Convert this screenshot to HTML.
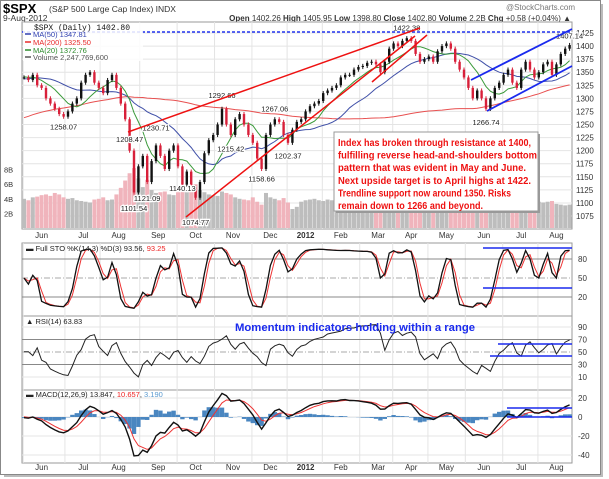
<!DOCTYPE html>
<html><head><meta charset="utf-8"><style>
html,body{margin:0;padding:0;background:#fff;width:609px;height:479px;overflow:hidden}
svg{display:block;font-family:"Liberation Sans",sans-serif}
</style></head><body>
<svg id="c" width="609" height="479" viewBox="0 0 609 479"></svg>
<script>
const closes=[1340,1335,1345,1325,1320,1300,1290,1280,1270,1265,1275,1290,1300,1330,1345,1350,1330,1320,1310,1335,1345,1320,1290,1260,1200,1120,1170,1190,1140,1180,1210,1190,1165,1200,1210,1170,1135,1160,1130,1110,1140,1195,1220,1230,1250,1280,1250,1230,1260,1270,1250,1230,1215,1185,1165,1230,1250,1260,1255,1230,1215,1240,1255,1260,1275,1285,1290,1295,1310,1315,1320,1325,1340,1345,1345,1355,1360,1362,1368,1370,1365,1350,1370,1395,1405,1400,1410,1415,1410,1385,1370,1375,1380,1370,1390,1400,1405,1395,1370,1355,1340,1320,1300,1315,1300,1280,1300,1320,1330,1345,1355,1330,1320,1355,1370,1355,1340,1350,1365,1370,1345,1365,1385,1395,1402];
const priorCloses=[1105,1110,1115,1125,1125,1140,1145,1150,1160,1165,1170,1175,1180,1185,1185,1180,1195,1200,1215,1220,1210,1200,1190,1195,1180,1190,1200,1215,1225,1230,1240,1245,1255,1260,1258,1270,1275,1280,1285,1290,1285,1285,1290,1300,1310,1320,1325,1330,1340,1330,1320,1310,1320,1300,1280,1270,1290,1300,1310,1320,1325,1330,1320,1315,1330,1320,1310,1330,1340,1350,1355,1360,1355,1345,1340,1345,1350,1345,1330,1335];
const volumes=[4.0,3.8,4.2,4.3,4.5,4.6,4.4,4.8,4.6,4.2,4.0,4.1,3.8,3.7,3.6,3.5,3.9,4.0,4.2,3.8,3.9,4.6,5.5,6.5,7.5,8.2,6.8,5.6,6.6,5.2,4.8,4.9,5.0,4.6,4.5,5.2,5.6,5.0,5.4,6.0,5.2,4.9,4.6,4.5,4.4,5.0,4.8,4.6,4.2,4.0,3.9,3.8,4.2,3.6,3.2,4.8,4.2,4.0,3.8,4.1,3.5,2.6,2.9,3.6,3.8,3.9,4.0,3.8,3.7,3.9,3.8,3.6,3.9,3.7,3.8,3.5,3.6,3.4,3.7,3.9,4.0,4.6,3.8,3.6,3.7,3.6,3.8,3.7,3.9,4.3,4.0,3.8,3.7,3.9,3.6,3.7,3.6,3.9,4.2,4.3,4.1,4.4,4.6,3.9,4.0,4.3,3.8,3.9,3.7,3.5,3.8,3.9,3.6,3.7,3.5,3.4,3.8,3.6,3.5,3.6,3.7,3.3,3.2,3.1,3.2];
const priceTicks=[1075,1100,1125,1150,1175,1200,1225,1250,1275,1300,1325,1350,1375,1400,1425];
const volTicks=[2,4,6,8];
const monthNames=["Jun","Jul","Aug","Sep","Oct","Nov","Dec","2012","Feb","Mar","Apr","May","Jun","Jul","Aug"];
const monthIdx=[4,13.5,21.5,30.5,39,47.5,56,64,72,80.5,88,96,104.5,113,121];
const pivotIdx=[9,25,28,24,30,36,39,45,47,57,54,60,87,105,124];
const pivotVals=[1258.07,1101.54,1121.09,1208.47,1230.71,1140.13,1074.77,1292.66,1215.42,1267.06,1158.66,1202.37,1422.38,1266.74,1407.14];
const pivotLow=[1,1,1,0,0,1,1,0,1,0,1,1,0,1,0];
const stoTicks=[20,50,80];
const rsiTicks=[10,30,50,70,90];
const macdTicks=[-40,-20,0,20];

const NS="http://www.w3.org/2000/svg";
const svg=document.getElementById('c');
function mk(tag,attrs,parent,text){const e=document.createElementNS(NS,tag);for(const k in attrs)e.setAttribute(k,attrs[k]);if(text!==undefined)e.textContent=text;(parent||svg).appendChild(e);return e;}
const X0=22,X1=572;
const xs=i=>24+i*4.4;
const yP=p=>33+(1425-p)*0.5229;
const yV=v=>228-v*7.3;
const ySto=v=>297-(v-20)*0.6333;
const yRsi=v=>352-(v-50)*0.625;
const yMacd=v=>417-v*0.95;
let el;

el=mk('rect',{x:4,y:4,width:599,height:473,fill:'#bbb'});


el=mk('rect',{x:0.5,y:0.5,width:600,height:474,fill:'#fff',stroke:'#888'});



el=mk('text',{x:3,y:13,'font-size':13,'font-weight':'bold'},svg,'$SPX');


el=mk('text',{x:49,y:12,'font-size':8.5,fill:'#333'},svg,'(S&P 500 Large Cap Index) INDX');


el=mk('text',{x:3,y:21,'font-size':8.5,fill:'#333'},svg,'9-Aug-2012');


el=mk('text',{x:575,y:10,'font-size':8,fill:'#777','text-anchor':'end'},svg,'@StockCharts.com');


el=mk('text',{x:571,y:21,'font-size':8,fill:'#333','text-anchor':'end'},svg);
el.innerHTML='<tspan font-weight="bold">Open</tspan> 1402.26 <tspan font-weight="bold">High</tspan> 1405.95 <tspan font-weight="bold">Low</tspan> 1398.80 <tspan font-weight="bold">Close</tspan> 1402.80 <tspan font-weight="bold">Volume</tspan> 2.2B <tspan font-weight="bold">Chg</tspan> +0.58 (+0.04%) ▲';



function panel(name,y0,y1){const r=mk('rect',{x:X0,y:y0,width:X1-X0,height:y1-y0,fill:'#fff',stroke:'#999','stroke-width':1});return r;}
panel('price-panel',22,229);
panel('sto-panel',243,316);
panel('rsi-panel',316,390);
panel('macd-panel',390,463);

[[22,229],[243,463]].forEach(([a,b])=>{monthIdx.forEach(m=>{const gx=xs(m-4.2);if(gx>X0&&gx<X1){const l=mk('line',{x1:gx,x2:gx,y1:a,y2:b,stroke:'#e4e4e4'});}});});
priceTicks.forEach(p=>{const l=mk('line',{x1:X0,x2:X1,y1:yP(p),y2:yP(p),stroke:'#e4e4e4'});
const t=mk('text',{x:576,y:yP(p)+3,'font-size':8,fill:'#333'},svg,String(p));});
volTicks.forEach(v=>{const t=mk('text',{x:4,y:yV(v)+3,'font-size':7.5,fill:'#333'},svg,v+'B');});

[238,470].forEach(yy=>{monthNames.forEach((m,k)=>{const t=mk('text',{x:xs(monthIdx[k]),y:yy,'font-size':8,fill:'#333','text-anchor':'middle','font-weight':m==='2012'?'bold':'normal'},svg,m);});});

volumes.forEach((v,i)=>{const up=i===0||closes[i]>=closes[i-1];const r=mk('rect',{x:xs(i)-2,y:yV(v),width:4,height:228-yV(v),fill:up?'#bdbdbd':'#f0b4bc'});});

const all=priorCloses.concat(closes);const off=priorCloses.length;
function sma(n,i){const j=i+off;const s=Math.max(0,j-n+1);let t=0;for(let k=s;k<=j;k++)t+=all[k];return t/(j-s+1);}
function maLine(n,color,name){let d='';closes.forEach((c,i)=>{d+=(i?'L':'M')+xs(i).toFixed(1)+','+yP(sma(n,i)).toFixed(1);});const p=mk('path',{d:d,fill:'none',stroke:color,'stroke-width':1});}
maLine(80,'#e85050','ma200-line');
maLine(20,'#4050a8','ma50-line');
maLine(8,'#3a9a3a','ma20-line');

closes.forEach((c,i)=>{const o=i?closes[i-1]:c;const hi=Math.max(o,c)+4,lo=Math.min(o,c)-4;const col=c>=o?'#111':'#d8203a';
const w=mk('line',{x1:xs(i),x2:xs(i),y1:yP(hi),y2:yP(lo),stroke:col,'stroke-width':1});
const b=mk('rect',{x:xs(i)-1.2,y:yP(Math.max(o,c)),width:2.4,height:Math.max(1,yP(Math.min(o,c))-yP(Math.max(o,c))),fill:col});});

pivotIdx.forEach((pi,k)=>{const v=pivotVals[k];const low=pivotLow[k];const ty=low?yP(v)+9:yP(v)-4;const t=mk('text',{x:xs(pi),y:ty,'font-size':7.5,fill:'#222','text-anchor':'middle',stroke:'#fff','stroke-width':2.5,'paint-order':'stroke'},svg,v.toFixed(2));});

function aline(name,x1,y1,x2,y2,color,w,dash){const l=mk('line',{x1:x1,y1:y1,x2:x2,y2:y2,stroke:color,'stroke-width':w});if(dash)l.setAttribute('stroke-dasharray',dash);}
aline('resistance-1422-line',X0,32,X1,32,'#2233ee',1.5,'3,2');
aline('wedge-upper-trendline',128,132,420,28,'#ee1111',1.5);
aline('wedge-support-trendline',186,217,415,36,'#ee1111',1.5);
aline('steep-trendline',372,82,427,35,'#ee1111',1.5);
aline('channel-upper-line',471,80,572,29,'#1a2aee',1.8);
aline('channel-lower-line',487,111,572,66,'#1a2aee',1.8);

el=mk('rect',{x:23,y:23,width:120,height:38,fill:'#fff','fill-opacity':0.85});


el=mk('text',{x:34,y:30,'font-size':8,'font-family':'Liberation Mono, monospace',fill:'#111'},svg,'$SPX (Daily) 1402.80');


[['MA(50) 1347.81','#3040b0',37,'legend-ma50'],['MA(200) 1325.50','#e82a2a',45,'legend-ma200'],['MA(20) 1372.76','#2a8a2a',53,'legend-ma20'],['Volume 2,247,769,600','#555',60,'legend-volume']].forEach(a=>{
const l=mk('line',{x1:25,x2:31,y1:a[2]-3,y2:a[2]-3,stroke:a[1],'stroke-width':1.5});
const t=mk('text',{x:33,y:a[2],'font-size':7.5,fill:a[1]},svg,a[0]);});

el=mk('rect',{x:336,y:134,width:204,height:79,fill:'#999'});


el=mk('rect',{x:334,y:132,width:204,height:79,fill:'#fff',stroke:'#999'});


const noteLines=['Index has broken through resistance at 1400,','fulfilling reverse head-and-shoulders bottom','pattern that was evident in May and June.','Next upside target is to April highs at 1422.','Trendline support now around 1350. Risks','remain down to 1266 and beyond.'];
const noteW=[193,199,188,193,173,145];
noteLines.forEach((s,k)=>{const t=mk('text',{x:338,y:146+k*12.6,'font-size':10.5,'font-weight':'bold',fill:'#ee1111',textLength:noteW[k],lengthAdjust:'spacingAndGlyphs'},svg,s);});

const hi=closes.map((c,i)=>Math.max(c,i?closes[i-1]:c)+4), lo=closes.map((c,i)=>Math.min(c,i?closes[i-1]:c)-4);
const raw=closes.map((c,i)=>{const s=Math.max(0,i-6);let H=-1e9,L=1e9;for(let k=s;k<=i;k++){H=Math.max(H,hi[k]);L=Math.min(L,lo[k]);}return 100*(c-L)/(H-L);});
const kS=raw.map((v,i)=>i?(v+raw[i-1])/2:v);
const dS=kS.map((v,i)=>i?(v+kS[i-1])/2:v);
stoTicks.forEach(v=>{const l=mk('line',{x1:X0,x2:X1,y1:ySto(v),y2:ySto(v),stroke:v===50?'#aaa':'#888','stroke-dasharray':v===50?'6,2,1,2':''});
const t=mk('text',{x:578,y:ySto(v)+3,'font-size':8,fill:'#333'},svg,String(v));});
function series(arr,yf,color,w,name){let d='';arr.forEach((v,i)=>{d+=(i?'L':'M')+xs(i).toFixed(1)+','+yf(v).toFixed(1);});const p=mk('path',{d:d,fill:'none',stroke:color,'stroke-width':w});}
series(dS,ySto,'#ee3333',1,'sto-d-line');
series(kS,ySto,'#111',1.3,'sto-k-line');
el=mk('text',{x:26,y:251,'font-size':7.5,fill:'#222'},svg);
el.innerHTML='▬ Full STO %K(14,3) %D(3) 93.56, <tspan fill="#e22">93.25</tspan>';


aline('sto-upper-range-line',483,248,572,248,'#1a2aee',1.5);
aline('sto-lower-range-line',483,288,572,288,'#1a2aee',1.5);

const rsi=[];(function(){const n=6;let ag=0,al=0;for(let j=1;j<all.length;j++){const ch=all[j]-all[j-1];const g=Math.max(ch,0),l=Math.max(-ch,0);ag=(ag*(n-1)+g)/n;al=(al*(n-1)+l)/n;if(j>=off)rsi.push(al===0?100:100-100/(1+ag/al));}rsi.unshift(rsi[0]);})();
rsiTicks.forEach(v=>{const main=v===30||v===70;const l=mk('line',{x1:X0,x2:X1,y1:yRsi(v),y2:yRsi(v),stroke:main?'#888':(v===50?'#aaa':'#e4e4e4'),'stroke-dasharray':v===50?'6,2,1,2':''});
const t=mk('text',{x:578,y:yRsi(v)+3,'font-size':8,fill:'#333'},svg,String(v));});
series(rsi.slice(0,closes.length),yRsi,'#222',1,'rsi-line');
el=mk('text',{x:26,y:324,'font-size':7.5,fill:'#222'},svg,'▲ RSI(14) 63.83');


el=mk('text',{x:235,y:331,'font-size':11,'font-weight':'bold',fill:'#1a2aee',textLength:240,lengthAdjust:'spacingAndGlyphs'},svg,'Momentum indicators holding within a range');


aline('rsi-upper-range-line',498,344,572,344,'#1a2aee',1.5);
aline('rsi-lower-range-line',490,356,572,356,'#1a2aee',1.5);

function ema(arr,n){const a=2/(n+1);const o=[];arr.forEach((v,i)=>o.push(i?o[i-1]+a*(v-o[i-1]):v));return o;}
const e1=ema(all,5),e2=ema(all,10);const macdAll=e1.map((v,i)=>v-e2[i]);const sigAll=ema(macdAll,4);
const macd=macdAll.slice(off),sig=sigAll.slice(off),hist=macd.map((v,i)=>v-sig[i]);
macdTicks.forEach(v=>{const l=mk('line',{x1:X0,x2:X1,y1:yMacd(v),y2:yMacd(v),stroke:'#e4e4e4'});
const t=mk('text',{x:578,y:yMacd(v)+3,'font-size':8,fill:'#333'},svg,String(v));});
hist.forEach((h,i)=>{const y0=yMacd(0),y1=yMacd(h);const r=mk('rect',{x:xs(i)-2.2,y:Math.min(y0,y1),width:4.4,height:Math.abs(y1-y0),fill:'#4a86c0'});});
series(sig,yMacd,'#ee3333',1,'macd-signal-line');
series(macd,yMacd,'#111',1.4,'macd-line');
el=mk('text',{x:26,y:397,'font-size':7.5,fill:'#222'},svg);
el.innerHTML='▬ MACD(12,26,9) 13.847, <tspan fill="#e22">10.657</tspan>, <tspan fill="#5a9ad0">3.190</tspan>';


aline('macd-upper-range-line',507,408,572,408,'#1a2aee',1.5);
aline('macd-lower-range-line',507,417,572,417,'#1a2aee',1.5);
</script>
</body></html>
